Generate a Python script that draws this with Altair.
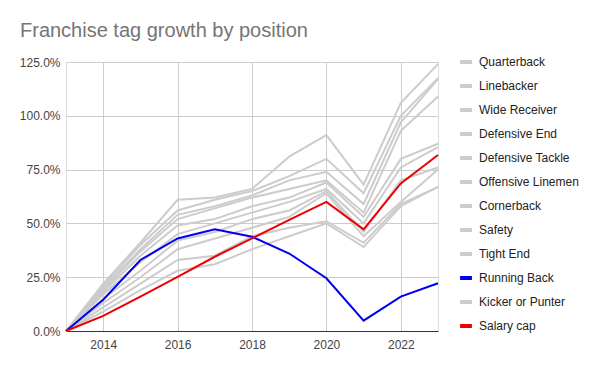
import altair as alt
import pandas as pd

years = [2013, 2014, 2015, 2016, 2017, 2018, 2019, 2020, 2021, 2022, 2023]

series_names = [
    "Quarterback", "Linebacker", "Wide Receiver", "Defensive End",
    "Defensive Tackle", "Offensive Linemen", "Cornerback", "Safety",
    "Tight End", "Running Back", "Kicker or Punter", "Salary cap",
]

quarterback = [0, 22, 41, 61, 62, 66, 81, 91, 68, 106, 124]
linebacker = [0, 21, 40, 56, 61, 65, 72, 80, 64, 100, 117.5]
wide_receiver = [0, 20, 38, 54, 58, 63, 70, 74, 59, 97, 117]
defensive_end = [0, 19, 37, 52, 57, 62, 66, 70, 55, 93, 109]
defensive_tackle = [0, 18, 35, 49, 52, 58, 62, 69, 53, 80, 87]
offensive_linemen = [0, 17, 32, 45, 50, 55, 60, 66, 50, 76, 85.5]
cornerback = [0, 15, 28, 42, 46, 52, 56, 65, 46, 70, 76]
safety = [0, 9, 19, 28, 31, 38, 44, 50, 39, 58, 67]
tight_end = [0, 11, 22, 33, 35, 44, 48, 51, 41, 59, 67]
running_back = [0, 14.5, 33, 43, 47.3, 43.8, 36, 24.5, 4.8, 16, 22.2]
kicker_punter = [0, 13, 25, 38, 43, 48, 53, 64, 44, 60, 75]
salary_cap = [0, 7, 16, 25.2, 34.5, 43, 51.6, 60, 47.2, 68.6, 81.8]

values = [
    quarterback, linebacker, wide_receiver, defensive_end, defensive_tackle,
    offensive_linemen, cornerback, safety, tight_end, running_back,
    kicker_punter, salary_cap,
]

colors = ["#cccccc"] * 9 + ["#0000ee"] + ["#cccccc"] + ["#ee0000"]

y_ticks = [0, 0.25, 0.5, 0.75, 1.0, 1.25]
x_ticks = [2014, 2016, 2018, 2020, 2022]

rows = []
for name, vals in zip(series_names, values):
    for yr, v in zip(years, vals):
        rows.append({"Year": yr, "Position": name, "Growth": v / 100.0})
df = pd.DataFrame(rows)

FONT = "Liberation Sans"

color_enc = alt.Color(
    "Position:N",
    scale=alt.Scale(domain=series_names, range=colors),
    sort=series_names,
    legend=alt.Legend(
        title=None,
        orient="none",
        legendX=392,
        legendY=-8,
        symbolType="stroke",
        symbolStrokeWidth=4,
        symbolSize=140,
        labelFontSize=12,
        labelFont=FONT,
        labelColor="#222222",
        labelOffset=5,
        labelLimit=200,
        rowPadding=8,
    ),
)

base = alt.Chart(df).encode(
    x=alt.X(
        "Year:Q",
        scale=alt.Scale(domain=[2013, 2023], nice=False, zero=False),
        axis=alt.Axis(
            title=None,
            values=x_ticks,
            format="d",
            ticks=False,
            labelPadding=8,
            labelFontSize=12,
            labelFont=FONT,
            labelColor="#444444",
            domainColor="#333333",
            domainWidth=1,
            gridColor="#cccccc",
        ),
    ),
    y=alt.Y(
        "Growth:Q",
        scale=alt.Scale(domain=[0, 1.25], nice=False),
        axis=alt.Axis(
            title=None,
            values=y_ticks,
            format=".1%",
            ticks=False,
            domain=False,
            labelPadding=6,
            labelFontSize=12,
            labelFont=FONT,
            labelColor="#444444",
            gridColor="#cccccc",
        ),
    ),
    color=color_enc,
    detail="Position:N",
)

gray_names = [n for n in series_names if n not in ("Running Back", "Salary cap")]

gray_layer = base.transform_filter(
    alt.FieldOneOfPredicate(field="Position", oneOf=gray_names)
).mark_line(strokeWidth=2)
blue_layer = base.transform_filter(
    alt.datum.Position == "Running Back"
).mark_line(strokeWidth=2)
red_layer = base.transform_filter(
    alt.datum.Position == "Salary cap"
).mark_line(strokeWidth=2)

chart = (
    alt.layer(gray_layer, blue_layer, red_layer)
    .properties(
        width=372,
        height=269,
        autosize=alt.AutoSizeParams(type="none"),
        padding={"left": 58, "top": 54, "right": 154, "bottom": 30},
        title=alt.TitleParams(
            "Franchise tag growth by position",
            anchor="start",
            frame="group",
            dx=-46,
            offset=13,
            fontSize=20,
            font=FONT,
            fontWeight="normal",
            color="#757575",
        ),
    )
    .configure_view(stroke=None)
    .configure(background="white")
)

chart.save("out.html", embed_options={"renderer": "svg", "actions": False})
